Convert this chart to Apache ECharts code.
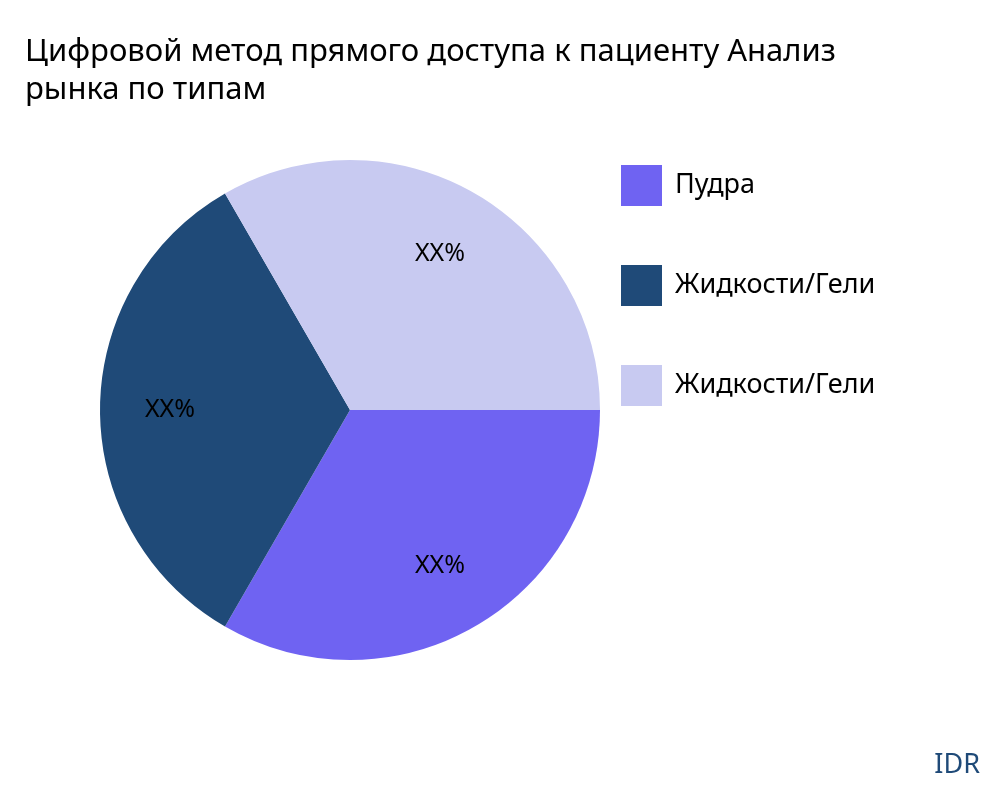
<!DOCTYPE html>
<html><head><meta charset="utf-8">
<script src="https://cdn.jsdelivr.net/npm/echarts@6/dist/echarts.min.js"></script>
<style>html,body{margin:0;padding:0;background:#fff}#c{width:1000px;height:800px}</style>
</head><body><div id="c"></div>
<script>
var names = ['Пудра', 'Жидкости/Гели', 'Жидкости/Гели '];
var values = [1, 1, 1];
var labels = ['XX%', 'XX%', 'XX%'];
var colors = ['#6f63f2', '#1f4a78', '#c8caf1'];

var chart = echarts.init(document.getElementById('c'));
var font = '"Noto Sans", sans-serif';
chart.setOption({
	animation: false,
	title: {
		text: 'Цифровой метод прямого доступа к пациенту Анализ\nрынка по типам',
		left: 20, top: 28,
		textStyle: {fontFamily: font, fontSize: 31, fontWeight: 'normal', color: '#000', lineHeight: 38}
	},
	legend: {
		data: names,
		orient: 'vertical', left: 616, top: 160,
		itemWidth: 41, itemHeight: 41, itemGap: 59,
		icon: 'rect',
		formatter: function(n){ return n.trim(); },
		textStyle: {fontFamily: font, fontSize: 27, color: '#000', padding: [0,0,0,8]}
	},
	graphic: [{type: 'text', right: 20, top: 752, style: {text: 'IDR', fontFamily: font, fontSize: 27, fill: '#1f4a78'}}],
	series: [{
		type: 'pie', center: [350, 410], radius: [0, 250],
		startAngle: 0, clockwise: true,
		label: {show: false}, labelLine: {show: false},
		emphasis: {disabled: true},
		data: names.map(function(n, i){ return {name: n, value: values[i], itemStyle: {color: colors[i]}}; })
	}, {
		type: 'pie', center: [350, 410], radius: [104, 250],
		startAngle: 0, clockwise: true, silent: true,
		itemStyle: {color: 'rgba(0,0,0,0)'},
		label: {show: true, position: 'inside', fontFamily: font, fontSize: 25, color: '#000',
			formatter: function(p){ return labels[p.dataIndex]; }},
		labelLine: {show: false},
		data: names.map(function(n, i){ return {name: 'l' + i, value: values[i]}; })
	}]
});
</script></body></html>
